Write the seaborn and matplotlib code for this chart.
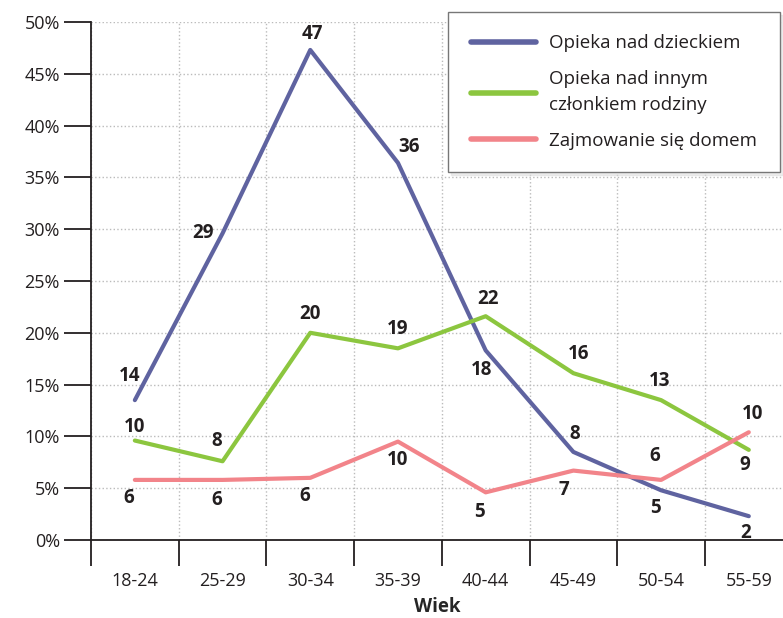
import numpy as np
import pandas as pd
import matplotlib
matplotlib.use("Agg")
import matplotlib.pyplot as plt
import seaborn as sns
from matplotlib.ticker import FixedLocator, PercentFormatter

# dane
wiek = ['18-24', '25-29', '30-34', '35-39', '40-44', '45-49', '50-54', '55-59']
dziecko = [13.5, 29.6, 47.3, 36.4, 18.3, 8.5, 4.8, 2.3]
rodzina = [9.6, 7.6, 20.0, 18.5, 21.6, 16.1, 13.5, 8.7]
dom = [5.8, 5.8, 6.0, 9.5, 4.6, 6.7, 5.8, 10.4]
etykiety_dziecko = [14, 29, 47, 36, 18, 8, 5, 2]
etykiety_rodzina = [10, 8, 20, 19, 22, 16, 13, 9]
etykiety_dom = [6, 6, 6, 10, 5, 7, 6, 10]
serie = ['Opieka nad dzieckiem', 'Opieka nad innym\nczłonkiem rodziny', 'Zajmowanie się domem']
kolory = ['#5f63a0', '#8cc63f', '#f2848a']

df = pd.DataFrame({
    'Wiek': wiek * 3,
    'proc': dziecko + rodzina + dom,
    'seria': [serie[0]] * 8 + [serie[1]] * 8 + [serie[2]] * 8,
})

sns.set_style('white')
plt.rcParams['font.family'] = ['Open Sans', 'DejaVu Sans']
plt.rcParams['text.color'] = '#231f20'

fig = plt.figure(figsize=(7.83, 6.18), dpi=100)
ax = fig.add_axes([91 / 783, 78 / 618, 1 - 91 / 783, 518 / 618])

sns.lineplot(data=df, x='Wiek', y='proc', hue='seria', palette=kolory,
             linewidth=3, ax=ax, sort=False)

# etykiety wartosci (przesuniecia w pikselach)
off_dziecko = [(-5, 24), (-20, 0), (2, 16), (11, 16), (-4, -20), (1, 18), (-6, -18), (-3, -17)]
off_rodzina = [(0, 14), (-6, 20), (0, 19), (0, 19), (2, 17), (5, 19), (-1, 19), (-4, -15)]
off_dom = [(-6, -18), (-6, -20), (-6, -18), (0, -18), (-6, -20), (-10, -19), (-6, 24), (4, 18)]
for vals, labs, offs in [(dziecko, etykiety_dziecko, off_dziecko),
                         (rodzina, etykiety_rodzina, off_rodzina),
                         (dom, etykiety_dom, off_dom)]:
    for i, (v, l, o) in enumerate(zip(vals, labs, offs)):
        ax.annotate(str(l), (i, v), xytext=o, textcoords='offset pixels',
                    ha='center', va='center', fontsize=13.5, fontweight='bold',
                    color='#231f20')

ax.set_xlim(-0.5, 7.39)
ax.set_ylim(0, 50)
ax.set_yticks(np.arange(0, 51, 5))
ax.yaxis.set_major_formatter(PercentFormatter(decimals=0))
ax.set_xticks(range(8))
ax.set_xticklabels(wiek)
ax.xaxis.set_minor_locator(FixedLocator(np.arange(-0.5, 7.5, 1)))
ax.tick_params(axis='x', which='major', length=0, pad=23, labelsize=13, labelcolor='#231f20')
ax.tick_params(axis='x', which='minor', length=19, width=1.3, color='#231f20', direction='out', bottom=True)
ax.tick_params(axis='y', length=19.5, width=1.3, color='#231f20', direction='out', left=True,
               labelsize=13, labelcolor='#231f20', pad=3)

ax.grid(False)
ax.yaxis.grid(True, linestyle=':', color='#bbbbbb', linewidth=1)
ax.xaxis.grid(True, which='minor', linestyle=':', color='#bbbbbb', linewidth=1)
ax.set_axisbelow(True)
for s in ['top', 'right']:
    ax.spines[s].set_visible(False)
for s in ['left', 'bottom']:
    ax.spines[s].set_color('#231f20')
    ax.spines[s].set_linewidth(1.3)

ax.set_xlabel('Wiek', fontsize=13.5, fontweight='bold', labelpad=5)
ax.set_ylabel('')

h, l = ax.get_legend_handles_labels()
leg = ax.legend(h, serie, loc='upper left', bbox_to_anchor=(448 / 783, 1 - 12 / 618),
                bbox_transform=fig.transFigure, fontsize=13.5, frameon=True, fancybox=False,
                shadow={'color': '#dcdcdc'}, handlelength=3.5, handletextpad=0.7,
                borderpad=1.2, labelspacing=0.95, borderaxespad=0)
leg.get_frame().set_edgecolor('#777777')
leg.get_frame().set_linewidth(1)
for t in leg.get_texts():
    t.set_linespacing(1.55)
for line in leg.get_lines():
    line.set_linewidth(4)

fig.savefig('out.png', dpi=100)
